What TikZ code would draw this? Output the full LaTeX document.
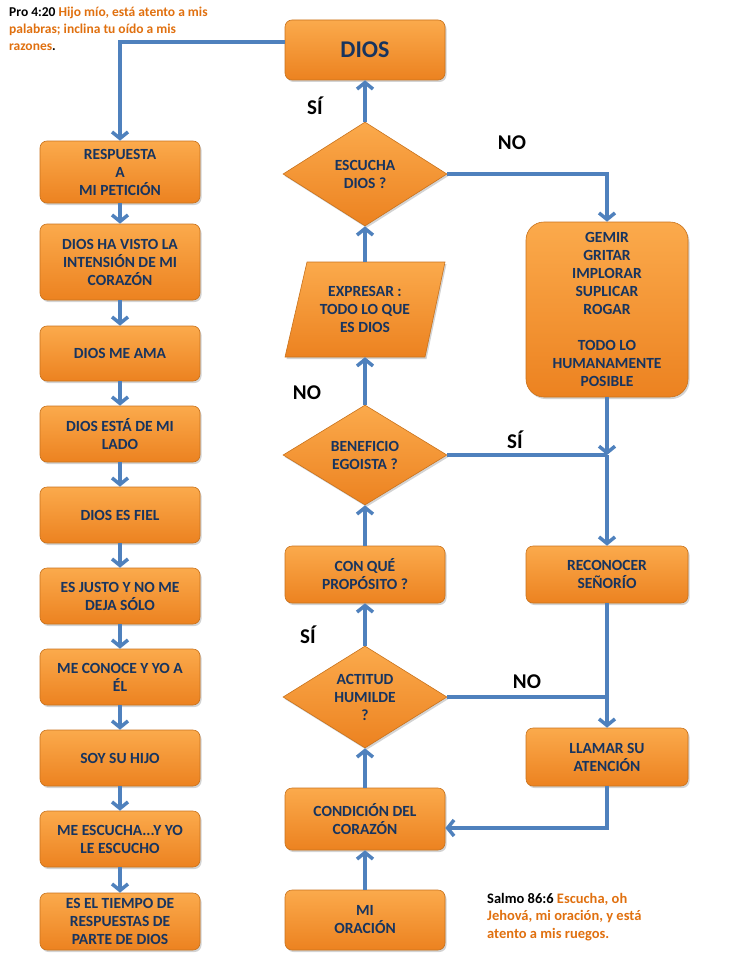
\documentclass[tikz,border=0pt]{standalone}
\usepackage{fontspec}
\setmainfont{Carlito}
\usetikzlibrary{arrows.meta,shapes.geometric,shadows}
\definecolor{orTop}{HTML}{FBAA4C}
\definecolor{orBot}{HTML}{EC8220}
\definecolor{orEdge}{HTML}{C8721C}
\definecolor{txtblue}{HTML}{17345F}
\definecolor{arrblue}{HTML}{4F81BD}
\definecolor{verse}{HTML}{E0700F}
\newcommand{\boxfont}{\fontsize{15.5}{18}\selectfont\bfseries}
\tikzset{
  orfill/.style={draw=orEdge, line width=0.6pt, top color=orTop, bottom color=orBot,
    drop shadow={shadow xshift=1.5pt, shadow yshift=-2pt, opacity=0.35}},
  box/.style={orfill, rectangle, rounded corners=7pt, minimum width=160pt,
    text=txtblue, font=\boxfont, align=center, inner sep=2pt},
  dia/.style={orfill, diamond, aspect=1.6, inner sep=0pt, minimum width=164pt,
    minimum height=104pt, text=txtblue, font=\boxfont, align=center},
  conn/.style={draw=arrblue, line width=3.5pt, -{Straight Barb[length=6.5pt,width=16pt]}},
  plain/.style={draw=arrblue, line width=3.5pt},
  lbl/.style={font=\fontsize{21}{21}\selectfont\bfseries, text=black, inner sep=0pt},
  verset/.style={font=\fontsize{13.5}{17}\selectfont\bfseries, align=left, inner sep=0pt, anchor=north west}
}
\begin{document}
\begin{tikzpicture}[x=1pt,y=1pt]
\useasboundingbox (0,0) rectangle (728,-971);
% left column
\node[box, minimum height=62pt] (resp) at (120,-172) {RESPUESTA\\A\\MI PETICIÓN};
\node[box, minimum height=76pt] (visto) at (120,-262) {DIOS HA VISTO LA\\INTENSIÓN DE MI\\CORAZÓN};
\node[box, minimum height=55pt] (ama) at (120,-353.5) {DIOS ME AMA};
\node[box, minimum height=56pt] (lado) at (120,-434) {DIOS ESTÁ DE MI\\LADO};
\node[box, minimum height=56pt] (fiel) at (120,-515) {DIOS ES FIEL};
\node[box, minimum height=56pt] (justo) at (120,-596) {ES JUSTO Y NO ME\\DEJA SÓLO};
\node[box, minimum height=56pt] (conoce) at (120,-677) {ME CONOCE Y YO A\\ÉL};
\node[box, minimum height=56pt] (hijo) at (120,-758) {SOY SU HIJO};
\node[box, minimum height=56pt] (escucho) at (120,-839) {ME ESCUCHA...Y YO\\LE ESCUCHO};
\node[box, minimum height=57pt] (tiempo) at (120,-921.5) {ES EL TIEMPO DE\\RESPUESTAS DE\\PARTE DE DIOS};
% middle column
\node[box, minimum height=60pt, font=\fontsize{24}{24}\selectfont\bfseries] (dios) at (365,-50) {DIOS};
\node[dia] (escucha) at (365,-174) {ESCUCHA\\DIOS ?};
\path[orfill] (307,-262) -- (445,-262) -- (425,-357) -- (285,-357) -- cycle;
\node[rectangle, minimum width=140pt, minimum height=95pt, text=txtblue, font=\boxfont, align=center, inner sep=0pt] (expr) at (365,-309.5) {EXPRESAR :\\TODO LO QUE\\ES DIOS};
\node[dia, minimum height=100pt] (benef) at (365,-455) {BENEFICIO\\EGOISTA ?};
\node[box, minimum height=57pt] (conque) at (365,-574.5) {CON QUÉ\\PROPÓSITO ?};
\node[dia, minimum height=102pt] (actitud) at (365,-697) {ACTITUD\\HUMILDE\\?};
\node[box, minimum height=62pt] (cond) at (365,-819) {CONDICIÓN DEL\\CORAZÓN};
\node[box, minimum height=60pt] (oracion) at (365,-920) {MI\\ORACIÓN};
% right column
\node[box, rounded corners=18pt, minimum width=162pt, minimum height=175pt] (gemir) at (607,-309.5)
  {GEMIR\\GRITAR\\IMPLORAR\\SUPLICAR\\ROGAR\\[18pt]TODO LO\\HUMANAMENTE\\POSIBLE};
\node[box, minimum width=162pt, minimum height=57pt] (recon) at (607,-574.5) {RECONOCER\\SEÑORÍO};
\node[box, minimum width=162pt, minimum height=58pt] (llamar) at (607,-757) {LLAMAR SU\\ATENCIÓN};
% connectors
\draw[conn] ([yshift=8pt]dios.west) -| (resp.north);
\draw[conn] (resp) -- (visto);
\draw[conn] (visto) -- (ama);
\draw[conn] (ama) -- (lado);
\draw[conn] (lado) -- (fiel);
\draw[conn] (fiel) -- (justo);
\draw[conn] (justo) -- (conoce);
\draw[conn] (conoce) -- (hijo);
\draw[conn] (hijo) -- (escucho);
\draw[conn] (escucho) -- (tiempo);
\draw[conn] (oracion) -- (cond);
\draw[conn] (cond) -- (actitud);
\draw[conn] (actitud) -- (conque);
\draw[conn] (conque) -- (benef);
\draw[conn] (benef) -- (expr);
\draw[conn] (expr) -- (escucha);
\draw[conn] (escucha) -- (dios);
\draw[conn] (escucha.east) -| (gemir.north);
\coordinate (j1) at (gemir.south |- benef.east);
\coordinate (j2) at (gemir.south |- actitud.east);
\draw[conn] (gemir.south) -- (j1);
\draw[plain] (benef.east) -- (j1);
\draw[conn] (j1) -- (recon.north);
\draw[plain] (actitud.east) -- (j2);
\draw[conn] (recon.south) -- (llamar.north);
\draw[conn] (llamar.south) |- ([yshift=-9pt]cond.east);
% labels
\node[lbl] (si1) at (315,-106) {SÍ};
\node[lbl] (no1) at (512,-143) {NO};
\node[lbl] (no2) at (307,-393) {NO};
\node[lbl] (si2) at (515,-440) {SÍ};
\node[lbl] (si3) at (308,-635) {SÍ};
\node[lbl] (no3) at (527,-682) {NO};
% verses
\node[verset] (pro) at (9,-4.5) {\strut Pro 4:20 \textcolor{verse}{Hijo mío, está atento a mis}\\\textcolor{verse}{palabras; inclina tu oído a mis}\\\textcolor{verse}{razones}.};
\node[verset, font=\fontsize{14.5}{17.5}\selectfont\bfseries] (salmo) at (487,-891) {\strut Salmo 86:6 \textcolor{verse}{Escucha, oh}\\\textcolor{verse}{Jehová, mi oración, y está}\\\textcolor{verse}{atento a mis ruegos.}};
\end{tikzpicture}
\end{document}
